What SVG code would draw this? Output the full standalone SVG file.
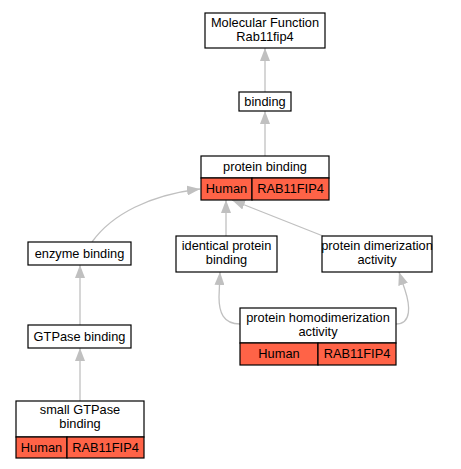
<svg xmlns="http://www.w3.org/2000/svg" width="461" height="469" viewBox="0 0 461 469">
<defs>
<marker id="ah" markerUnits="userSpaceOnUse" markerWidth="14" markerHeight="10" refX="13" refY="5" orient="auto">
<path d="M0,0 L13,5 L0,10 z" fill="#c0c0c0"/>
</marker>
<style>
.box{fill:#fff;stroke:#000;stroke-width:1.2}
.red{fill:#ff6347;stroke:#000;stroke-width:1.2}
.t{font-family:"Liberation Sans",Arial,sans-serif;font-size:12.8px;fill:#000;text-anchor:middle}
.e{fill:none;stroke:#c0c0c0;stroke-width:1.3;marker-end:url(#ah)}
</style>
</defs>
<rect width="461" height="469" fill="#fff"/>
<g id="edges">
<path class="e" d="M265,92 L265,48"/>
<path class="e" d="M265,156 L265,111"/>
<path class="e" d="M92,242 C112,214 150,195 200,189"/>
<path class="e" d="M226,236 L226,200"/>
<path class="e" d="M323,236 L232,200"/>
<path class="e" d="M80,325 L80,265"/>
<path class="e" d="M80,401 L80,348"/>
<path class="e" d="M240,324 C223,324 219,312 219,297 L220,272"/>
<path class="e" d="M396,324 C412,324 410,305 405,290 L399,272"/>
</g>
<g id="mf">
<rect class="box" x="205" y="13" width="120" height="35"/>
<text class="t" x="265" y="27">Molecular Function</text>
<text class="t" x="265" y="41">Rab11fip4</text>
</g>
<g id="binding">
<rect class="box" x="239" y="92" width="52" height="19"/>
<text class="t" x="265" y="106">binding</text>
</g>
<g id="protein_binding">
<rect class="box" x="201" y="156" width="128" height="22"/>
<rect class="red" x="201" y="178" width="51" height="22"/>
<rect class="red" x="252" y="178" width="77" height="22"/>
<text class="t" x="265" y="171">protein binding</text>
<text class="t" x="226.5" y="193">Human</text>
<text class="t" x="290.5" y="193">RAB11FIP4</text>
</g>
<g id="enzyme_binding">
<rect class="box" x="28" y="242" width="103" height="23"/>
<text class="t" x="79.5" y="258">enzyme binding</text>
</g>
<g id="identical_protein_binding">
<rect class="box" x="176" y="236" width="101" height="36"/>
<text class="t" x="226.5" y="250">identical protein</text>
<text class="t" x="226.5" y="264">binding</text>
</g>
<g id="protein_dimerization_activity">
<rect class="box" x="322" y="236" width="110" height="36"/>
<text class="t" x="377" y="250">protein dimerization</text>
<text class="t" x="377" y="264">activity</text>
</g>
<g id="gtpase_binding">
<rect class="box" x="28" y="325" width="103" height="23"/>
<text class="t" x="79.5" y="341">GTPase binding</text>
</g>
<g id="small_gtpase_binding">
<rect class="box" x="16" y="401" width="128" height="36"/>
<rect class="red" x="16" y="437" width="51" height="21"/>
<rect class="red" x="67" y="437" width="77" height="21"/>
<text class="t" x="80" y="414">small GTPase</text>
<text class="t" x="80" y="428">binding</text>
<text class="t" x="41.5" y="452">Human</text>
<text class="t" x="105.5" y="452">RAB11FIP4</text>
</g>
<g id="protein_homodimerization_activity">
<rect class="box" x="240" y="308" width="156" height="35"/>
<rect class="red" x="240" y="343" width="78" height="22"/>
<rect class="red" x="318" y="343" width="78" height="22"/>
<text class="t" x="318" y="321.5">protein homodimerization</text>
<text class="t" x="318" y="335.5">activity</text>
<text class="t" x="279" y="358">Human</text>
<text class="t" x="357" y="358">RAB11FIP4</text>
</g>
</svg>
